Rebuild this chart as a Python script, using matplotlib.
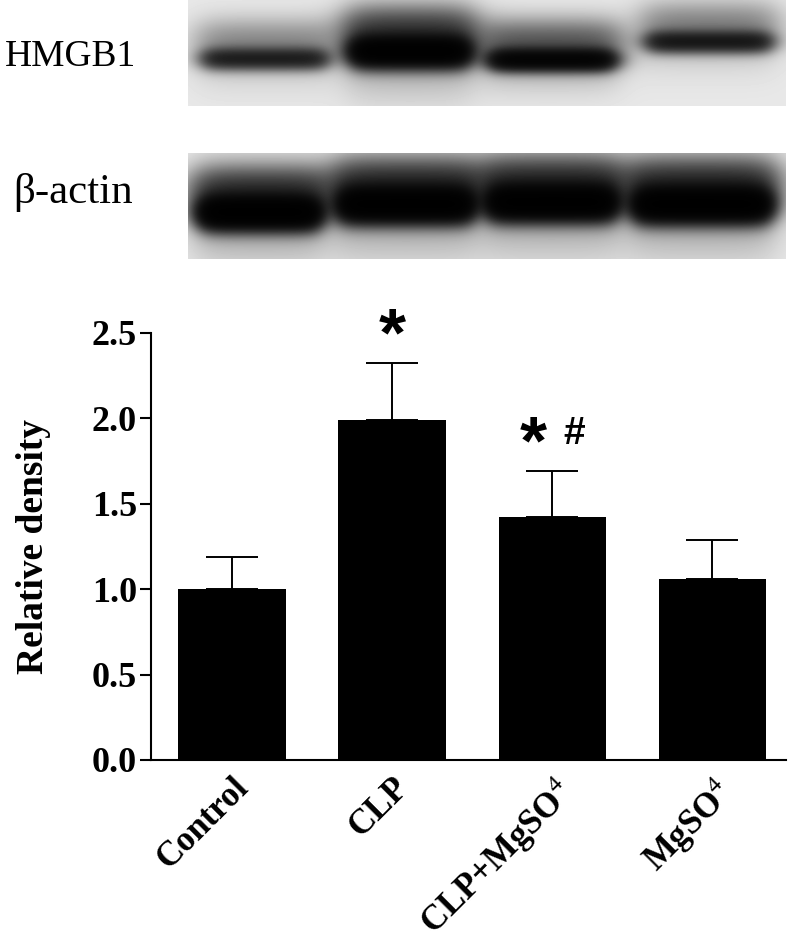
import numpy as np
import matplotlib.pyplot as plt
import matplotlib.transforms as mtransforms

plt.rcParams['font.family'] = 'Liberation Serif'
plt.rcParams['mathtext.fontset'] = 'custom'
plt.rcParams['mathtext.rm'] = 'Liberation Serif'
plt.rcParams['mathtext.bf'] = 'Liberation Serif:bold'

# densitometry (mean, upper error)
groups = ['Control', 'CLP', 'CLP+MgSO$^{4}$', 'MgSO$^{4}$']
density = [1.00, 1.99, 1.42, 1.06]
err = [0.19, 0.33, 0.27, 0.23]
star = ['', '*', '*', '']
hash_ = ['', '', '#', '']
yticks = [0.0, 0.5, 1.0, 1.5, 2.0, 2.5]

# blot bands: centre x, centre y, half width, half thickness, strength (blot pixels)
hmgb1_x = [77, 222, 364, 521]
hmgb1_y = [59, 52, 60, 42]
hmgb1_w = [60, 57, 60, 60]
hmgb1_h = [10, 14, 10, 10]
hmgb1_k = [1.7, 4.5, 3.2, 1.9]
actin_x = [72, 218, 364, 514]
actin_y = [60, 52, 50, 52]
actin_w = [58, 65, 62, 66]
actin_h = [15, 16, 16, 16]
actin_k = [5.0, 5.0, 5.0, 5.0]


def blot(ax, xs, ys, ws, hs, ks):
    W, H = 598, 106
    xx, yy = np.meshgrid(np.arange(W) + 0.5, np.arange(H) + 0.5)
    dark = np.zeros((H, W))
    for cx, cy, hw, hh, k in zip(xs, ys, ws, hs, ks):
        sx = 1 / (1 + np.exp((np.abs(xx - cx) - hw) / 6))
        sx2 = 1 / (1 + np.exp((np.abs(xx - cx) - hw - 6) / 10))
        core = np.exp(-((yy - cy) / hh) ** 2)
        smear = 0.25 * np.exp(-((yy - cy + hh + 8) / 22) ** 2)
        halo = 0.08 * np.exp(-((yy - cy) / (hh * 3)) ** 2)
        dark += k * sx * core + k * sx2 * (smear + halo)
    img = 0.91 * np.exp(-dark)
    ax.imshow(img, cmap='gray', vmin=0, vmax=1, extent=(0, W, H, 0),
              aspect='auto', interpolation='bilinear')
    ax.axis('off')


fig = plt.figure(figsize=(8, 9.44), dpi=100)

ax1 = fig.add_axes([188/800, 1-106/944, 598/800, 106/944])
blot(ax1, hmgb1_x, hmgb1_y, hmgb1_w, hmgb1_h, hmgb1_k)
ax2 = fig.add_axes([188/800, 1-259/944, 598/800, 106/944])
blot(ax2, actin_x, actin_y, actin_w, actin_h, actin_k)

fig.text(70/800, 1-57/944, 'HMGB1', ha='center', va='center', fontsize=27)
fig.text(73/800, 1-192/944, 'β-actin', ha='center', va='center', fontsize=31)

# bar chart
ax = fig.add_axes([151/800, 1-760/944, 635/800, 427.3/944])
x = np.arange(len(groups))
ax.bar(x, density, width=0.67, color='black', zorder=2)
ax.errorbar(x, density, yerr=[np.zeros(len(x)), err], fmt='none', ecolor='black',
            elinewidth=1.4, capsize=19, capthick=1.4, zorder=3)

for i in range(len(x)):
    top = density[i] + err[i]
    if star[i]:
        dx = -0.12 if hash_[i] else 0
        ax.text(i + dx, top + 0.15, star[i], ha='center', va='center', fontsize=50,
                fontweight='bold', family='Liberation Sans', clip_on=False)
    if hash_[i]:
        ax.text(i + 0.14, top + 0.22, hash_[i], ha='center', va='center', fontsize=28,
                fontweight='bold', family='Liberation Sans', clip_on=False)

ax.set_xlim(-0.506, 3.46)
ax.set_ylim(0, 2.5)
ax.set_yticks(yticks)
ax.set_yticklabels(['%.1f' % v for v in yticks], fontsize=26, fontweight='bold')
ax.set_xticks(x)
ax.set_xticklabels(groups, rotation=45, ha='right', rotation_mode='anchor',
                   fontsize=25, fontweight='bold')
offset = mtransforms.ScaledTranslation(0.04, 0, fig.dpi_scale_trans)
for lab in ax.get_xticklabels():
    lab.set_transform(lab.get_transform() + offset)
ax.tick_params(axis='x', length=0, pad=8)
ax.tick_params(axis='y', length=8, width=1.5, pad=2)
ax.spines['top'].set_visible(False)
ax.spines['right'].set_visible(False)
ax.spines['left'].set_linewidth(1.5)
ax.spines['bottom'].set_linewidth(1.5)
ax.set_ylabel('Relative density', fontsize=27, fontweight='bold')
ax.yaxis.set_label_coords(-0.158, 0.5)

fig.savefig('out.png', dpi=100)
